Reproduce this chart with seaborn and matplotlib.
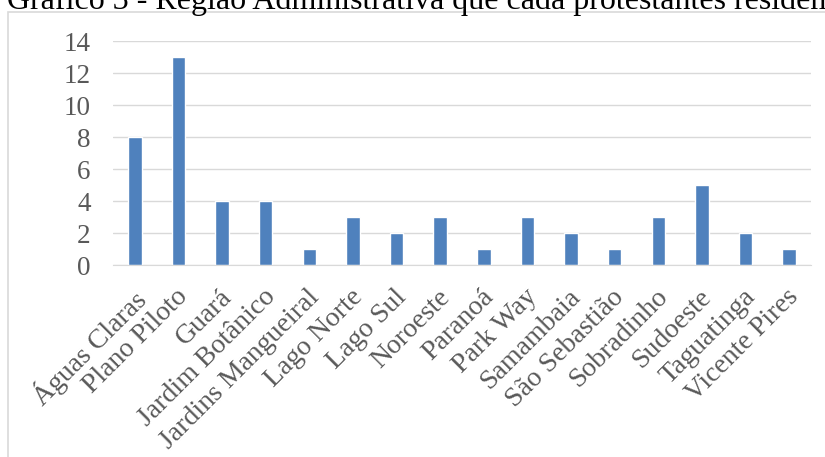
import seaborn as sns
import matplotlib.pyplot as plt
from matplotlib.patches import Rectangle
from matplotlib.transforms import ScaledTranslation

regioes = ["Águas Claras", "Plano Piloto", "Guará", "Jardim Botânico",
           "Jardins Mangueiral", "Lago Norte", "Lago Sul", "Noroeste",
           "Paranoá", "Park Way", "Samambaia", "São Sebastião",
           "Sobradinho", "Sudoeste", "Taguatinga", "Vicente Pires"]
contagem = [8, 13, 4, 4, 1, 3, 2, 3, 1, 3, 2, 1, 3, 5, 2, 1]
y_ticks = [0, 2, 4, 6, 8, 10, 12, 14]
titulo = "Gráfico 3 - Região Administrativa que cada protestantes residem"

sns.set_style("white")
plt.rcParams['font.family'] = ['Liberation Serif', 'DejaVu Serif']

fig = plt.figure(figsize=(8.25, 4.57), dpi=100)
ax = fig.add_axes([0.137, 0.42, 0.846, 0.49])

sns.barplot(x=regioes, y=contagem, color="#4f81bd", saturation=1,
            width=0.31, ax=ax)

ax.set_ylim(0, 14)
ax.set_yticks(y_ticks)
ax.set_yticklabels([str(t) for t in y_ticks], fontsize=19.5, color="#595959")
ax.set_xticks(range(len(regioes)))
ax.set_xticklabels(regioes, rotation=45, ha="right", rotation_mode="anchor",
                   fontsize=20, color="#595959")
ax.tick_params(axis="x", length=0, pad=14)
ax.tick_params(axis="y", length=0, pad=16)
desloc = ScaledTranslation(-3 / 100, 0, fig.dpi_scale_trans)
for lbl in ax.get_xticklabels():
    lbl.set_transform(lbl.get_transform() + desloc)
ax.grid(axis="y", color="#d9d9d9", linewidth=1)
ax.set_axisbelow(True)
for s in ["top", "right", "left"]:
    ax.spines[s].set_visible(False)
ax.spines["bottom"].set_color("#d9d9d9")
ax.set_xlim(-0.5, len(regioes) - 0.5)
ax.set_xlabel("")
ax.set_ylabel("")

# moldura do gráfico
fig.patches.append(Rectangle((7.5 / 825, -0.1), 1.1, 1.1 - 12.5 / 457,
                             transform=fig.transFigure, fill=False,
                             edgecolor="#d9d9d9", linewidth=1.2))

fig.text(7 / 825, 1 - 9 / 457, titulo,
         fontsize=23, color="black", va="baseline", ha="left")

plt.savefig("out.png", dpi=100)
plt.close()
